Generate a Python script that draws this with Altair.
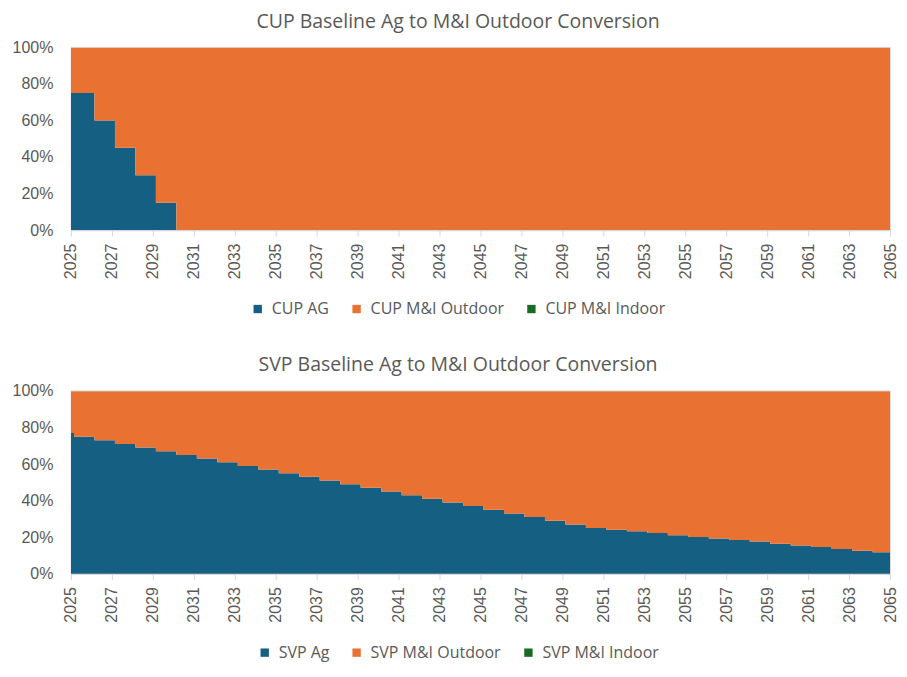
import altair as alt
import pandas as pd

# ---- data ----
years = list(range(2025, 2066))
# Ag share (%) for each year; M&I Outdoor is the remainder, M&I Indoor is zero
cup_ag = [75, 75, 60, 45, 30, 15] + [0] * 35
svp_ag = [77, 75, 73, 71, 69, 67, 65, 63, 61, 59,
          57, 55, 53, 51, 49, 47, 45, 43, 41, 39,
          37, 35, 33, 31, 29, 27, 25, 24, 23.3, 22.3,
          21.0, 20.1, 19.3, 18.5, 17.6, 16.4, 15.5, 14.6, 13.5, 12.6,
          11.8]
cup_names = ["CUP AG", "CUP M&I Outdoor", "CUP M&I Indoor"]
svp_names = ["SVP Ag", "SVP M&I Outdoor", "SVP M&I Indoor"]
colors = ["#156082", "#E97132", "#196B24"]
tick_years = years[::2]
y_ticks = [0, 0.2, 0.4, 0.6, 0.8, 1.0]
# each year's value takes effect late in February of the preceding year,
# as on the source workbook's date axis
step_lag = 0.85

TXT = "#595959"
GRID = "#d9d9d9"


def build(ag, names):
    starts = [years[0]] + [y - step_lag for y in years[1:]] + [years[-1]]
    vals = list(ag) + [ag[-1]]
    rows = []
    for t, v in zip(starts, vals):
        shares = [v / 100.0, 1.0 - v / 100.0, 0.0]
        for k, (n, s) in enumerate(zip(names, shares)):
            rows.append({"t": t, "series": n, "share": s, "k": k})
    return pd.DataFrame(rows)


def y_axis():
    return alt.Axis(
        values=y_ticks, format=".0%", title=None,
        domain=False, ticks=False, grid=True, gridColor=GRID,
        labelPadding=18, labelFont="Liberation Sans", labelFontSize=16,
        labelColor=TXT,
    )


def panel(ag, names, title, legend_x, legend_y):
    df = build(ag, names)
    yscale = alt.Scale(domain=[0, 1], nice=False)
    area = (
        alt.Chart(df)
        .mark_area(interpolate="step-after")
        .encode(
            x=alt.X(
                "t:Q",
                scale=alt.Scale(domain=[2025, 2065], nice=False, zero=False),
                axis=alt.Axis(
                    values=tick_years, format="d", labelAngle=-90, title=None,
                    grid=False, domainColor=GRID, tickColor=GRID,
                    tickSize=6, labelPadding=7, labelFont="Liberation Sans",
                    labelFontSize=16, labelColor=TXT,
                ),
            ),
            y=alt.Y("share:Q", stack="zero", scale=yscale, axis=y_axis()),
            color=alt.Color(
                "series:N",
                scale=alt.Scale(domain=names, range=colors),
                legend=alt.Legend(
                    title=None, orient="none", direction="horizontal",
                    legendX=legend_x, legendY=legend_y, symbolType="square",
                    symbolSize=70, symbolStrokeWidth=0, labelFont="Open Sans",
                    labelFontSize=16, labelColor=TXT, columnPadding=19,
                    labelOffset=6,
                ),
            ),
            order=alt.Order("k:Q"),
        )
    )
    # top gridline (100%) stays visible above the filled areas, as in the reference
    top_grid = (
        alt.Chart(alt.Data(values=[{"g": y_ticks[-1]}]))
        .mark_rule(color=GRID, strokeWidth=1)
        .encode(y=alt.Y("g:Q", scale=yscale, axis=y_axis()))
    )
    return alt.layer(
        area,
        top_grid,
        title=alt.TitleParams(
            text=title, fontSize=19.5, font="Open Sans", fontWeight="normal",
            color=TXT, anchor="middle", frame="bounds", dx=3, offset=7,
        ),
    ).properties(width=820, height=183)


top = panel(cup_ag, cup_names, "CUP Baseline Ag to M&I Outdoor Conversion", 179, 254)
bottom = panel(svp_ag, svp_names, "SVP Baseline Ag to M&I Outdoor Conversion", 186, 254)

chart = (
    alt.vconcat(top, bottom, spacing=37)
    .resolve_scale(color="independent")
    .resolve_legend(color="independent")
    .properties(padding={"left": 3, "top": 3, "right": 0, "bottom": 0})
    .configure_view(stroke=None)
    .configure(background="white")
)

chart.save("out.html", embed_options={"renderer": "svg", "actions": False})
